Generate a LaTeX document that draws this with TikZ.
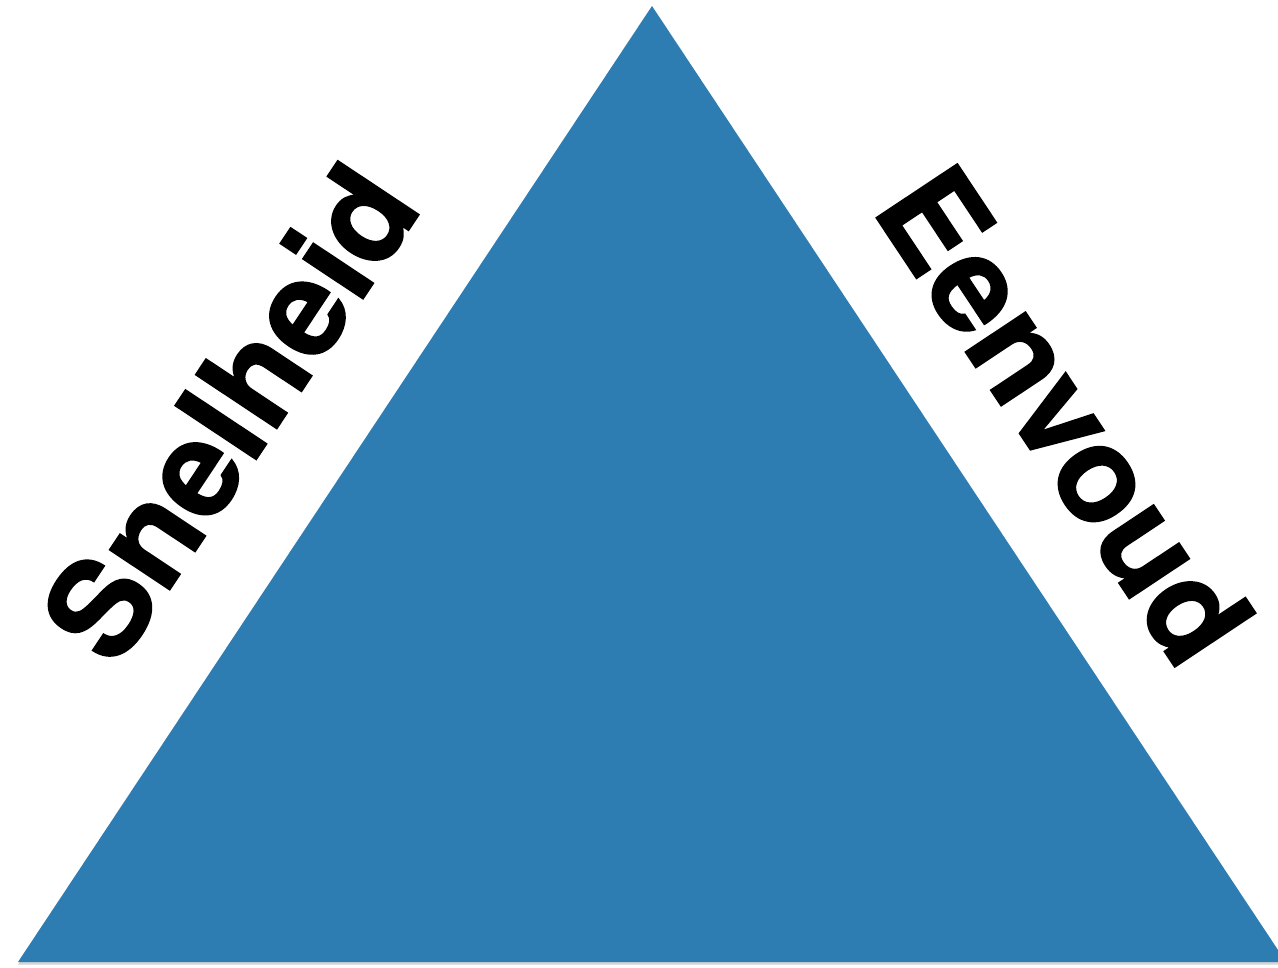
\documentclass[tikz,border=0pt]{standalone}
\usepackage{fontspec}
\newfontfamily\sidefont{texgyreheros-bold.otf}[FakeBold=1.2]
\usepackage{tikz}
\usetikzlibrary{shadows}
\definecolor{tBlue}{RGB}{46,125,178}

\begin{document}
\begin{tikzpicture}[
	x=0.02cm,y=-0.02cm,
	side/.style={
		inner sep=0pt,
		font=\sidefont\fontsize{76}{76}\selectfont
	}
	]
	\useasboundingbox (0,0) rectangle (1278,967);
	\clip (0,0) rectangle (1278,967);
	\coordinate (top) at (652,6);
	\coordinate (left) at (18,962);
	\coordinate (right) at (1286,962);
	\fill[tBlue,drop shadow={shadow xshift=0pt,shadow yshift=-0.05cm,opacity=0.35}] (top) -- (left) -- (right) -- cycle;
	\node[side,rotate=56.4](snelheid) at (229,412){Snelheid};
	\node[side,rotate=-56.4](eenvoud) at (1065,415){Eenvoud};
\end{tikzpicture}
\end{document}
